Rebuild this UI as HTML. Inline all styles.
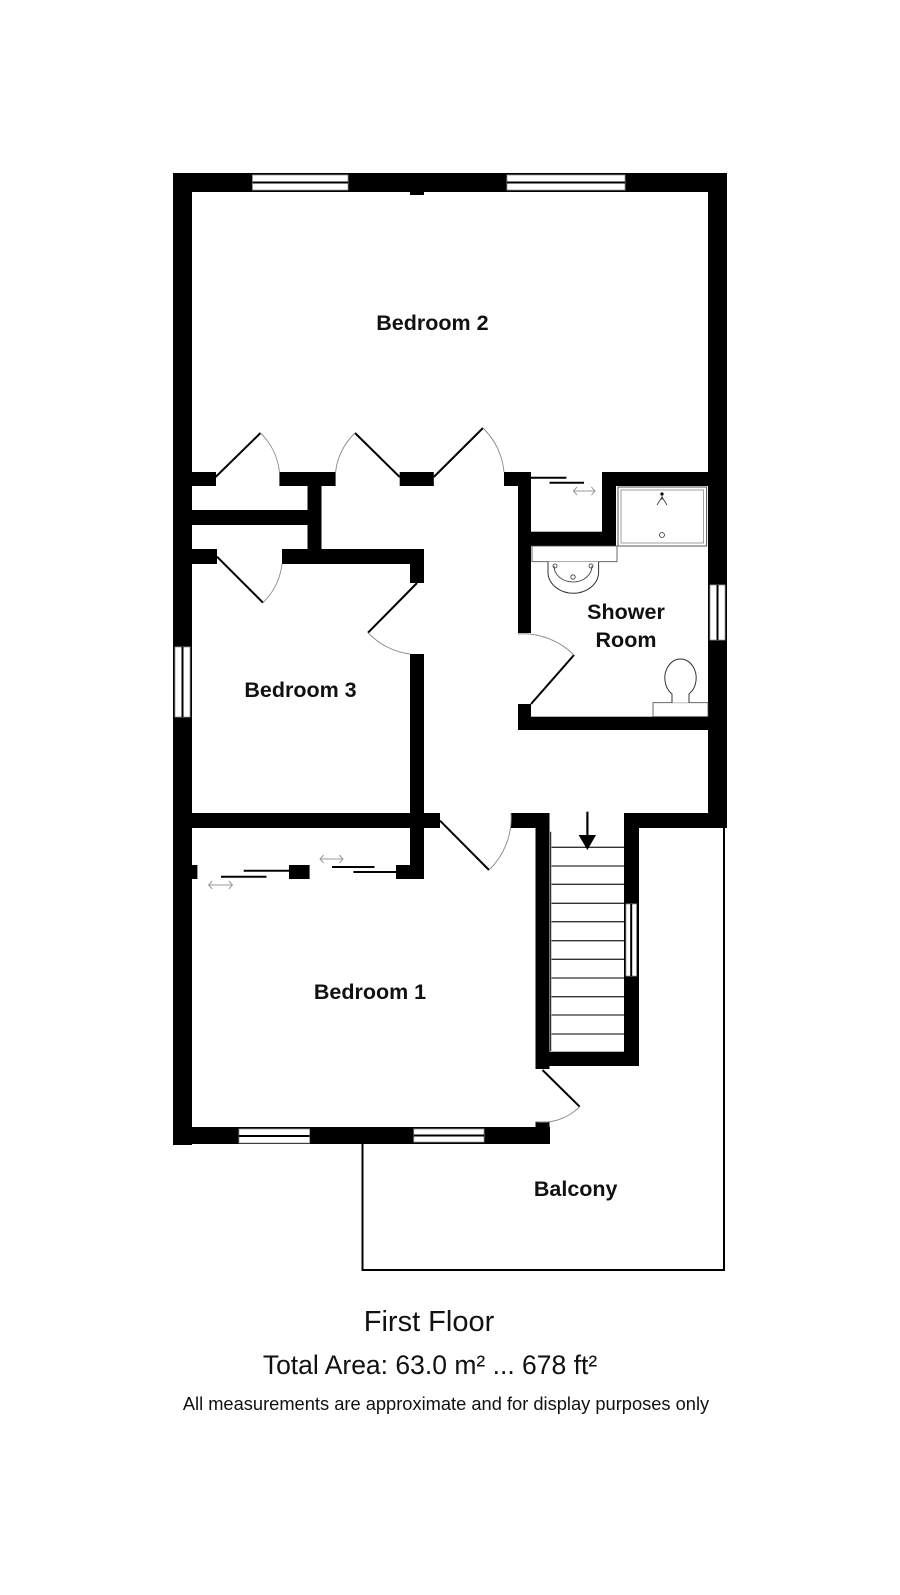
<!DOCTYPE html>
<html><head><meta charset="utf-8"><style>
html,body{margin:0;padding:0;background:#fff;}
svg{display:block;}
text{font-family:"Liberation Sans",Arial,sans-serif;}
</style></head><body>
<svg width="900" height="1595" viewBox="0 0 900 1595" xmlns="http://www.w3.org/2000/svg">
<rect width="900" height="1595" fill="#fff"/>
<g fill="#000">
<rect x="173" y="173" width="554" height="19"/>
<rect x="173" y="173" width="19" height="972"/>
<rect x="708" y="173" width="19" height="655"/>
<rect x="173" y="1127" width="377" height="17"/>
<rect x="535.5" y="1121.7" width="14" height="20"/>
<rect x="410" y="192" width="14" height="3"/>
<rect x="192" y="472" width="24" height="14"/>
<rect x="279.4" y="472" width="56.2" height="14"/>
<rect x="399.7" y="472" width="34.1" height="14"/>
<rect x="504" y="472" width="27" height="14"/>
<rect x="518" y="472" width="13" height="161"/>
<rect x="518" y="704" width="13" height="26"/>
<rect x="602" y="472" width="106" height="14"/>
<rect x="602" y="472" width="14" height="74"/>
<rect x="531" y="531.7" width="85" height="14.3"/>
<rect x="518" y="716.7" width="190" height="13.3"/>
<rect x="192" y="510" width="116" height="15"/>
<rect x="307.5" y="486" width="14" height="78"/>
<rect x="192" y="549" width="25" height="15"/>
<rect x="282" y="549" width="142" height="15"/>
<rect x="410" y="549" width="14" height="34"/>
<rect x="410" y="654" width="14" height="225"/>
<rect x="192" y="813" width="248" height="15"/>
<rect x="511" y="813" width="38.5" height="15"/>
<rect x="535.5" y="813" width="14" height="256"/>
<rect x="624" y="813" width="103" height="15"/>
<rect x="624" y="813" width="15" height="253"/>
<rect x="535.5" y="1051.7" width="103.5" height="14.3"/>
<rect x="192" y="865" width="5.4" height="14"/>
<rect x="289" y="865" width="20.6" height="14"/>
<rect x="396" y="865" width="28" height="14"/>
</g>
<g fill="#fff" stroke="#999" stroke-width="0.8">
<rect x="252.5" y="175" width="95.5" height="15"/>
<rect x="507" y="175" width="118" height="15"/>
<rect x="175" y="647" width="15" height="70"/>
<rect x="710" y="585" width="15" height="55"/>
<rect x="626" y="904" width="10.5" height="72"/>
<rect x="239" y="1129" width="70.6" height="14"/>
<rect x="413.8" y="1129" width="70.2" height="13"/>
</g>
<g stroke="#000" stroke-width="2">
<line x1="252.5" y1="182.5" x2="348" y2="182.5"/>
<line x1="507" y1="182.5" x2="625" y2="182.5"/>
<line x1="182.5" y1="647" x2="182.5" y2="717"/>
<line x1="717.5" y1="585" x2="717.5" y2="640"/>
<line x1="631.2" y1="904" x2="631.2" y2="976"/>
<line x1="239" y1="1136" x2="309.6" y2="1136"/>
<line x1="413.8" y1="1135.5" x2="484" y2="1135.5"/>
</g>
<g stroke="#000" stroke-width="2" fill="none">
<line x1="215.6" y1="477" x2="260.5" y2="433"/>
<line x1="399.7" y1="477" x2="355" y2="433"/>
<line x1="433.8" y1="477" x2="483" y2="428"/>
<line x1="217" y1="556.7" x2="263" y2="602.7"/>
<line x1="417" y1="583" x2="368" y2="632.7"/>
<line x1="531" y1="704" x2="574" y2="655"/>
<line x1="440" y1="820.7" x2="489" y2="870"/>
<line x1="542.5" y1="1070" x2="579.7" y2="1106.7"/>
</g>
<g stroke="#888" stroke-width="0.9" fill="none">
<path d="M260.5,433 A63,63 0 0 1 279.4,472"/>
<path d="M355,433 A63,63 0 0 0 335.6,472"/>
<path d="M483,428 A70,70 0 0 1 504,472"/>
<path d="M263,602.7 A65,65 0 0 0 282,564"/>
<path d="M368,632.7 A70,70 0 0 0 410,654"/>
<path d="M574,655 A72,72 0 0 0 518,634"/>
<path d="M489,870 A72,72 0 0 0 511,813"/>
<path d="M579.7,1106.7 A52,52 0 0 1 535.5,1121.7"/>
</g>
<g stroke="#000" stroke-width="2">
<line x1="531" y1="477.7" x2="566.4" y2="477.7"/>
<line x1="549.5" y1="482.7" x2="584" y2="482.7"/>
<line x1="221" y1="876.7" x2="266.5" y2="876.7"/>
<line x1="243.7" y1="870.7" x2="289" y2="870.7"/>
<line x1="332" y1="867" x2="374.5" y2="867"/>
<line x1="353.4" y1="872" x2="396" y2="872"/>
</g>
<g stroke="#999" stroke-width="1" fill="none">
<path d="M573.4,491 H595 M577,487 L573.4,491 L577,495 M591.4,487 L595,491 L591.4,495"/>
<path d="M208.6,885 H232.4 M212.2,881 L208.6,885 L212.2,889 M228.8,881 L232.4,885 L228.8,889"/>
<path d="M320,859 H343 M323.6,855 L320,859 L323.6,863 M339.4,855 L343,859 L339.4,863"/>
</g>
<rect x="618" y="487" width="88.6" height="59" fill="none" stroke="#555" stroke-width="1"/>
<rect x="621" y="490" width="82.6" height="53" fill="none" stroke="#888" stroke-width="0.8"/>
<circle cx="662" cy="494" r="1.6" fill="#000"/>
<path d="M662,494 V500 M662,497 L657,505 M662,497 L667,505" stroke="#333" stroke-width="0.8" fill="none"/>
<circle cx="662" cy="535" r="2.5" fill="none" stroke="#333" stroke-width="0.8"/>
<rect x="532" y="546" width="85" height="15.7" fill="#fff" stroke="#444" stroke-width="0.8"/>
<path d="M548,561.7 L548,572 A25,21 0 0 0 598.6,572 L598.6,561.7" fill="#fff" stroke="#333" stroke-width="1"/>
<path d="M554,566 A19,16 0 0 0 592,566" fill="none" stroke="#333" stroke-width="0.8"/>
<circle cx="555" cy="566" r="2" fill="none" stroke="#333" stroke-width="0.8"/>
<circle cx="591" cy="566" r="2" fill="none" stroke="#333" stroke-width="0.8"/>
<circle cx="573" cy="577" r="2.2" fill="none" stroke="#333" stroke-width="0.8"/>
<rect x="653" y="702.7" width="55" height="14" fill="#fff" stroke="#444" stroke-width="0.8"/>
<path d="M672,702.7 L672,694 A15.7,19 0 1 1 689,694 L689,702.7" fill="#fff" stroke="#333" stroke-width="1"/>
<g stroke="#333" stroke-width="1.3">
<line x1="550.6" y1="831.7" x2="550.6" y2="1051"/>
<line x1="551.6" y1="847.3" x2="624" y2="847.3"/>
<line x1="551.6" y1="866" x2="624" y2="866"/>
<line x1="551.6" y1="884.3" x2="624" y2="884.3"/>
<line x1="551.6" y1="903.3" x2="624" y2="903.3"/>
<line x1="551.6" y1="921.7" x2="624" y2="921.7"/>
<line x1="551.6" y1="940.7" x2="624" y2="940.7"/>
<line x1="551.6" y1="959.3" x2="624" y2="959.3"/>
<line x1="551.6" y1="978" x2="624" y2="978"/>
<line x1="551.6" y1="996.7" x2="624" y2="996.7"/>
<line x1="551.6" y1="1015" x2="624" y2="1015"/>
<line x1="551.6" y1="1034" x2="624" y2="1034"/>
</g>
<line x1="587.4" y1="811.7" x2="587.4" y2="838" stroke="#000" stroke-width="2.2"/>
<polygon points="578.6,835 596,835 587.4,850" fill="#000"/>
<path d="M362.5,1144 V1270 H724 V828" fill="none" stroke="#000" stroke-width="2"/>
<g font-weight="bold" font-size="21.5" fill="#111" text-anchor="middle">
<text x="432.4" y="330">Bedroom 2</text>
<text x="300.5" y="697">Bedroom 3</text>
<text x="626" y="619">Shower</text>
<text x="626" y="647">Room</text>
<text x="370" y="999">Bedroom 1</text>
<text x="575.7" y="1196">Balcony</text>
</g>
<g fill="#111" text-anchor="middle">
<text x="429" y="1331" font-size="29">First Floor</text>
<text x="430" y="1374" font-size="26.5">Total Area: 63.0 m² ... 678 ft²</text>
<text x="446" y="1410" font-size="18.3">All measurements are approximate and for display purposes only</text>
</g>
</svg>
</body></html>
